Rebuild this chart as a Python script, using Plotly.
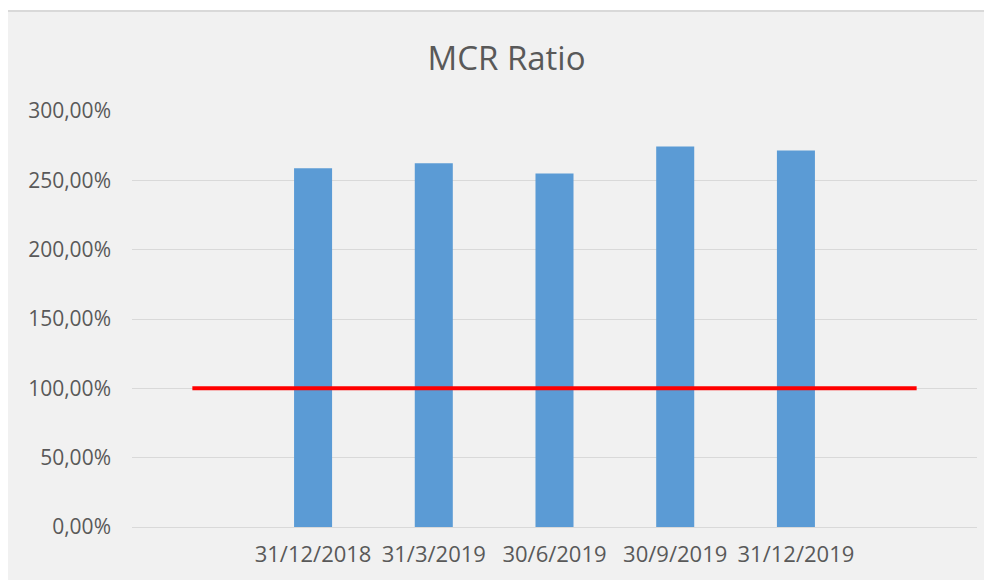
import plotly.graph_objects as go

categories = ["", "31/12/2018", "31/3/2019", "30/6/2019", "30/9/2019", "31/12/2019", " "]
bar_categories = ["31/12/2018", "31/3/2019", "30/6/2019", "30/9/2019", "31/12/2019"]
mcr_ratio = [2.588, 2.624, 2.549, 2.744, 2.715]
threshold = [1.0, 1.0, 1.0, 1.0, 1.0, 1.0, 1.0]
y_ticks = [0, 0.5, 1.0, 1.5, 2.0, 2.5, 3.0]

FONT = "Open Sans"
GREY = "#595959"

fig = go.Figure()
fig.add_trace(go.Bar(
    x=bar_categories, y=mcr_ratio,
    marker=dict(color="#5b9bd5", line=dict(width=0)),
    showlegend=False,
))
fig.add_trace(go.Scatter(
    x=categories, y=threshold, mode="lines",
    line=dict(color="#ff0000", width=4),
    showlegend=False,
))

# page is offset by 8px body margin; work in figure coordinates
OFF = 8
W, H = 992 - OFF, 580 - OFF
L, T = 132 - OFF, 111 - OFF
R = W - (977 - OFF)
B = H - (527 - OFF)
pw = W - L - R
ph = H - T - B

def px_x(p):
    return (p - OFF - L) / pw

def px_y(p):
    return (H - B - (p - OFF)) / ph

fig.add_shape(type="rect", xref="paper", yref="paper",
              x0=px_x(7), x1=px_x(1010), y0=px_y(610), y1=px_y(11),
              fillcolor="#f1f1f1", line=dict(color="#d9d9d9", width=2), layer="below")

fig.update_layout(
    width=W, height=H,
    margin=dict(l=L, r=R, t=T, b=B),
    paper_bgcolor="white",
    plot_bgcolor="rgba(0,0,0,0)",
    separators=",.",
    bargap=0.685,
    title=dict(text="MCR Ratio", x=(506.5 - OFF) / W, xref="container", xanchor="center",
               y=1 - (58 - OFF) / H, yanchor="middle",
               font=dict(family=FONT, size=33, color=GREY)),
    font=dict(family=FONT, color=GREY),
)
fig.update_xaxes(
    type="category", categoryorder="array", categoryarray=categories,
    range=[-0.5, 6.5],
    showgrid=False, showline=False, zeroline=False,
    ticks="", ticklabelstandoff=12,
    tickfont=dict(family=FONT, size=22, color=GREY),
)
fig.update_yaxes(
    range=[0, 3], tickvals=y_ticks, tickformat=".2%",
    showgrid=True, gridcolor="#d9d9d9", gridwidth=1,
    zeroline=True, zerolinecolor="#d9d9d9", zerolinewidth=1,
    showline=False, ticks="", ticklabelstandoff=20,
    tickfont=dict(family=FONT, size=21, color=GREY),
)

fig.write_html("out.html")
